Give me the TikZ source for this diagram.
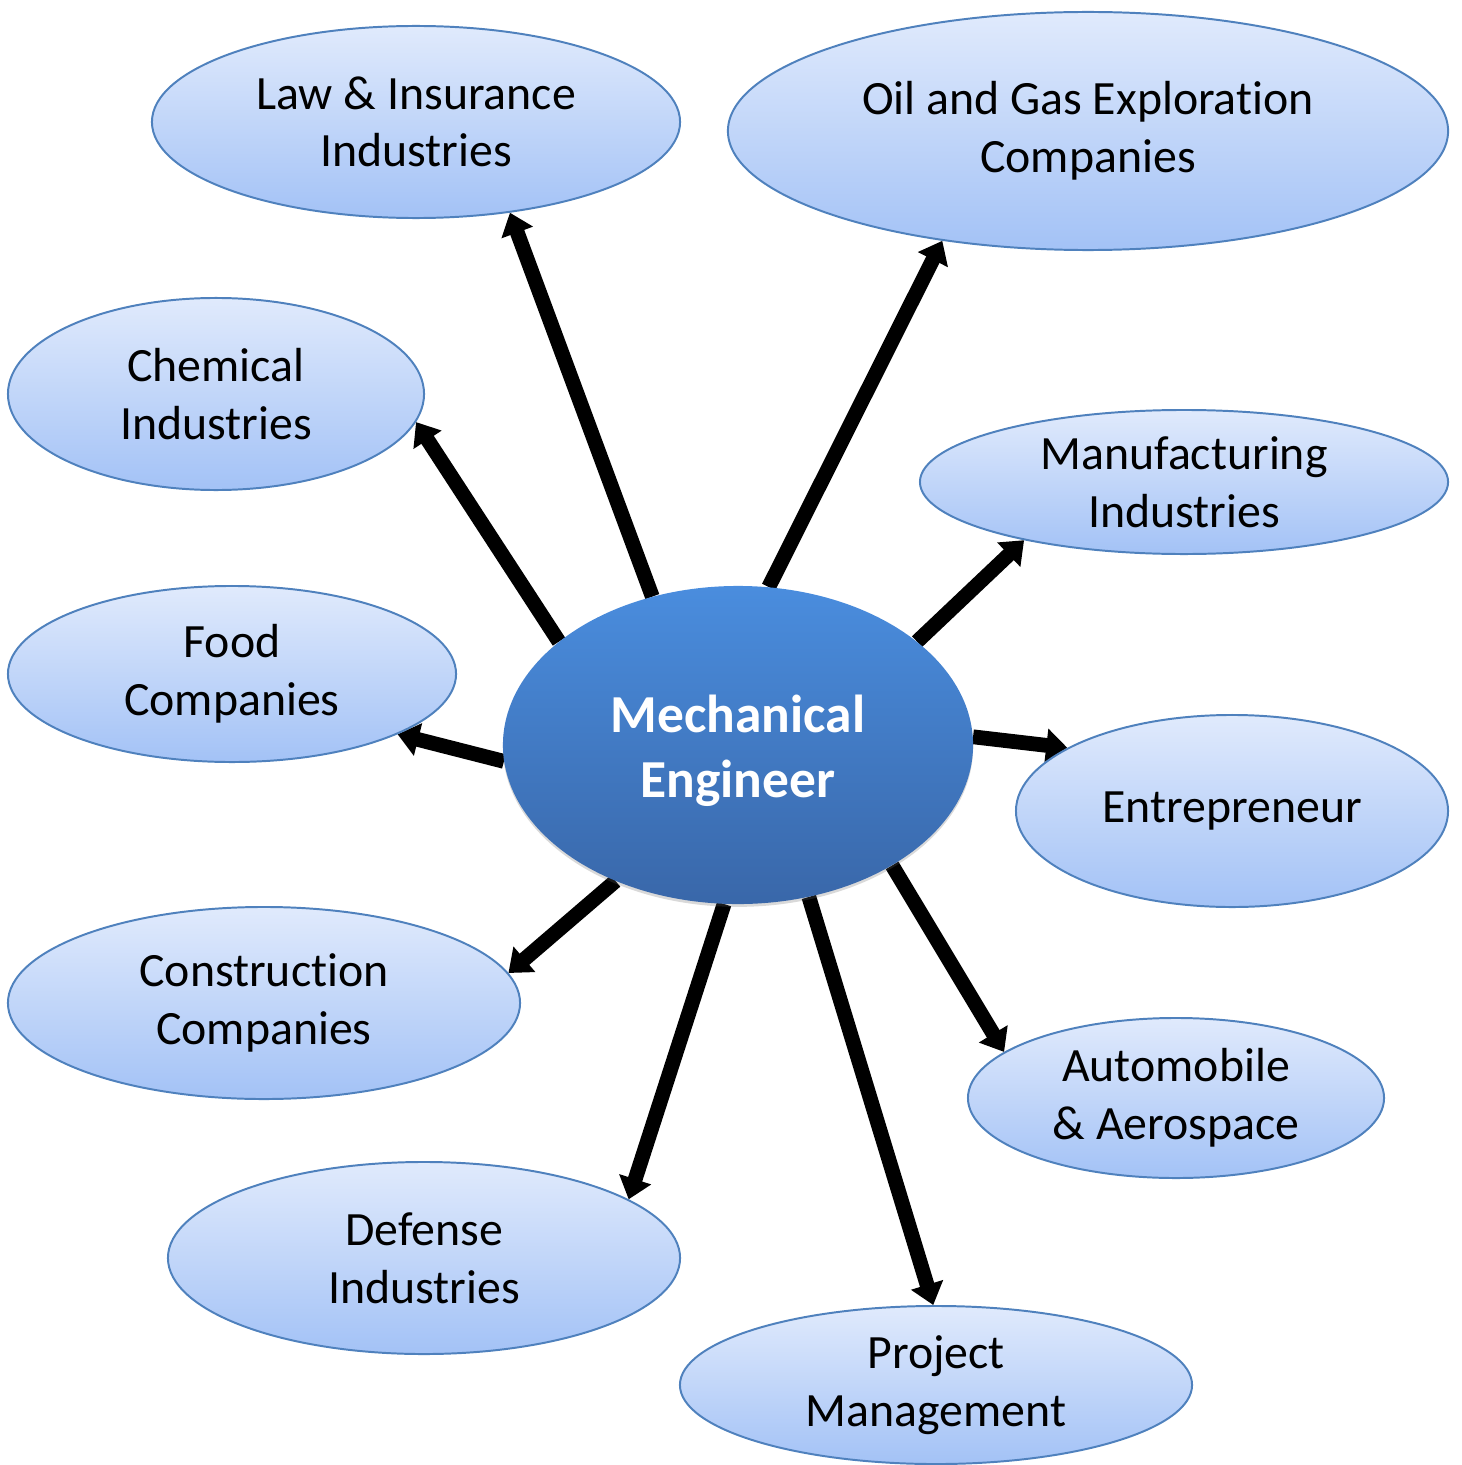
\documentclass[tikz,border=0pt]{standalone}
\usepackage{fontspec}
\setmainfont{Carlito}[Ligatures=NoCommon]
\usetikzlibrary{shapes.geometric,arrows.meta,shadows,backgrounds}
\definecolor{rimblue}{HTML}{4F81BD}
\definecolor{lighttop}{HTML}{E0EAFC}
\definecolor{lightbot}{HTML}{A3C2F6}
\definecolor{midtop}{HTML}{4A8DDE}
\definecolor{midbot}{HTML}{3967A9}
\tikzset{
  x=0.025cm, y=-0.025cm,
  field/.style={ellipse, draw=rimblue, line width=1.4pt, top color=lighttop, bottom color=lightbot,
    inner sep=0pt, align=center, font=\fontsize{34}{41}\selectfont, text=black},
  hub/.style={ellipse, draw=none, top color=midtop, bottom color=midbot,
    inner sep=0pt, align=center, font=\bfseries\fontsize{38}{46}\selectfont, text=white,
    drop shadow={opacity=0.25, shadow xshift=0pt, shadow yshift=-2pt, fill=black!60}},
  link/.style={line width=10.5pt, -{Triangle[width=23pt,length=15pt]}},
}
\begin{document}
\begin{tikzpicture}
\useasboundingbox (0,0) rectangle (1461,1465);
\node[field, minimum width=13.2cm, minimum height=4.8cm] (law) at (416,122) {Law \& Insurance\\Industries};
\node[field, minimum width=18cm, minimum height=5.95cm] (oil) at (1088,131) {Oil and Gas Exploration\\Companies};
\node[field, minimum width=10.4cm, minimum height=4.8cm] (chem) at (216,394) {Chemical\\Industries};
\node[field, minimum width=13.2cm, minimum height=3.6cm] (manu) at (1184,482) {Manufacturing\\Industries};
\node[field, minimum width=11.2cm, minimum height=4.4cm] (food) at (232,674) {Food\\Companies};
\node[field, minimum width=10.8cm, minimum height=4.8cm] (entr) at (1232,811) {Entrepreneur};
\node[field, minimum width=12.8cm, minimum height=4.8cm] (cons) at (264,1003) {Construction\\Companies};
\node[field, minimum width=10.4cm, minimum height=4.0cm] (auto) at (1176,1098) {Automobile\\\& Aerospace};
\node[field, minimum width=12.8cm, minimum height=4.8cm] (def) at (424,1258) {Defense\\Industries};
\node[field, minimum width=12.8cm, minimum height=3.95cm] (proj) at (936,1385) {Project\\Management};
\node[hub, minimum width=11.75cm, minimum height=7.95cm] (mech) at (738,745) {};
\node[font=\bfseries\fontsize{38}{46}\selectfont, text=white, align=center] (mechlabel) at (738,751) {Mechanical\\Engineer};
\begin{scope}[on background layer]
\draw[link] (mech.120.3) -- (law.-44.4);
\draw[link] (mech.79) -- (oil.217.2);
\draw[link] (mech.150.5) -- (chem.-8.8);
\draw[link] (mech.30.1) -- (manu.200.3);
\draw[link] (mech.184.8) -- (food.-20.9);
\draw[link] (mech.2) -- (entr.159);
\draw[link] (mech.228.9) -- (cons.7.2);
\draw[link] (mech.-38.1) -- (auto.165.6);
\draw[link] (mech.265.5) -- (def.16.6);
\draw[link] (mech.295.2) -- (proj.92.9);
\end{scope}
\end{tikzpicture}
\end{document}
